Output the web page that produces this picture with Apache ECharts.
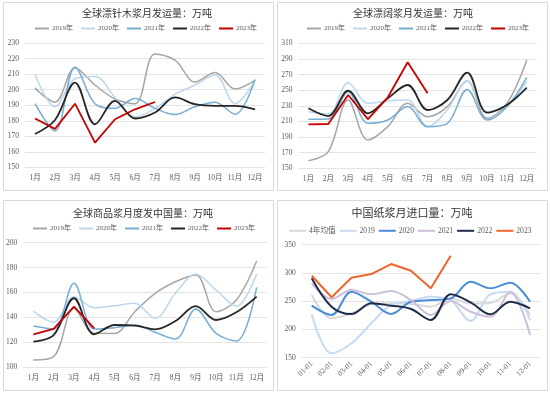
<!DOCTYPE html>
<html>
<head>
<meta charset="utf-8">
<script src="https://cdn.jsdelivr.net/npm/echarts@6/dist/echarts.min.js"></script>
<style>
html,body{margin:0;padding:0;background:#fff;}
#c{width:550px;height:394px;}
</style>
</head>
<body>
<div id="c"></div>
<script>
// ---- Data ----
const months = ['1月','2月','3月','4月','5月','6月','7月','8月','9月','10月','11月','12月'];
const importLabels = ['01-01','02-01','03-01','04-01','05-01','06-01','07-01','08-01','09-01','10-01','11-01','12-01'];
const yearNames = ['2019年','2020年','2021年','2022年','2023年'];
const importNames = ['4年均值','2019','2020','2021','2022','2023'];

const softwood2019 = [201, 192, 214, 203, 194, 191, 223, 219, 205, 211, 200.5, 206];
const softwood2020 = [209.7, 189, 207, 208.5, 195, 182.5, 188, 197, 203, 209.5, 191, 206];
const softwood2021 = [191, 173.5, 214.6, 191, 188, 194.3, 188, 184, 189, 192, 184.2, 206.5];
const softwood2022 = [171.5, 180.5, 204.6, 177.8, 192.8, 181.5, 185.3, 195, 190.7, 189.6, 189.6, 187.4];
const softwood2023 = [181.5, 174.8, 191, 166, 181, 187.4, 192.1];

const hardwood2019 = [159.7, 171.3, 237.4, 186.2, 203.3, 233.2, 216, 229, 262, 214, 233, 288.6];
const hardwood2020 = [222.4, 219.5, 259.6, 233.2, 236, 237.4, 203.3, 224.6, 262, 222.4, 231, 261];
const hardwood2021 = [212.7, 213, 248, 207.6, 211.8, 229, 203.3, 207.6, 251, 211.8, 228.8, 266.5];
const hardwood2022 = [226.8, 216.9, 249.3, 220.4, 239.6, 256.6, 224.6, 237.4, 272.4, 221.2, 231, 253.2];
const hardwood2023 = [206.3, 206.7, 243.8, 213, 240.9, 285.7, 246];

const china2019 = [105.6, 108.3, 147.2, 127.1, 127, 144.5, 159.3, 168.6, 174, 144.5, 153.9, 185.3];
const china2020 = [145, 136, 156.6, 147.7, 149.3, 151.2, 139.2, 159.3, 174.6, 162, 149, 174.8];
const china2021 = [133, 130.6, 167.3, 130.6, 131.6, 133.8, 127.9, 122.5, 146.7, 127.1, 120.9, 164.1];
const china2022 = [120.4, 125.7, 155.3, 126.3, 133.8, 133.3, 130.3, 137, 149, 137.8, 144, 156.6];
const china2023 = [126.3, 130.6, 148.5, 131.1];

const importAvg = [261, 219.7, 228.6, 244.5, 246.2, 245, 240.3, 255, 246, 247, 264, 225.6];
const import2019 = [226.8, 157.8, 175.5, 210.9, 243.3, 250.4, 258, 252, 215, 262.2, 266.8, 216.7];
const import2020 = [242.1, 225.6, 266.8, 249.1, 227.3, 249, 252, 255, 284.5, 272.8, 282.7, 249];
const import2021 = [281.6, 253.9, 269.8, 262.2, 268, 252, 225.6, 250.3, 231.4, 222.6, 265.7, 190.2];
const import2022 = [290.5, 240.3, 227.3, 246.3, 242.1, 236.2, 216.7, 262.2, 248, 226.8, 249.1, 237.4];
const import2023 = [295.1, 256.9, 291.6, 298.1, 315.8, 304, 272.8, 330.5];

// ---- Styles ----
const yearColors = ['#A6A6A6', '#BDD7EE', '#76AED3', '#262626', '#C80000'];
const yearWidths = [1.5, 1.5, 1.5, 1.8, 1.8];
const importColors = ['#D9D9D9', '#C6DBF2', '#4A8ED8', '#CDBFDC', '#1F2E48', '#F0652B'];
const importWidths = [2, 2, 2, 2, 2, 2];

const numFont = "'Liberation Serif', 'Noto Sans CJK SC', serif";
const cjkFont = "'Noto Sans CJK SC', sans-serif";
const labelColor = '#595959';
const gridLine = '#E3E3E3';

const chart = echarts.init(document.getElementById('c'), null, {renderer: 'canvas'});

function mkSeries(names, datas, colors, widths, gridIdx, straightLast) {
  return names.map((n, i) => ({
    name: n,
    type: 'line',
    xAxisIndex: gridIdx,
    yAxisIndex: gridIdx,
    data: datas[i],
    symbol: 'none',
    smooth: (straightLast && i === names.length - 1) ? false : 0.35,
    itemStyle: {color: colors[i]},
    lineStyle: {color: colors[i], width: widths[i]},
    z: 2 + i
  }));
}

function xAx(gridIdx, cats, rotate) {
  return {
    type: 'category', gridIndex: gridIdx, data: cats, boundaryGap: true,
    axisLine: {show: false}, axisTick: {show: false},
    axisLabel: {color: labelColor, fontSize: 7.5, fontFamily: numFont, margin: rotate ? 5 : 7, rotate: rotate || 0, interval: 0}
  };
}
function yAx(gridIdx, min, max, interval) {
  return {
    type: 'value', gridIndex: gridIdx, min: min, max: max, interval: interval,
    axisLine: {show: false}, axisTick: {show: false},
    axisLabel: {color: labelColor, fontSize: 7.5, fontFamily: numFont, margin: 6},
    splitLine: {lineStyle: {color: gridLine, width: 1}}
  };
}
function ttl(text, x, top, size) {
  return {text: text, left: x, top: top, textAlign: 'center', padding: 0,
    textStyle: {fontSize: size, fontWeight: 'normal', color: '#333333', fontFamily: cjkFont}};
}
function lgd(data, left, top, iw, gap, fs) {
  return {data: data, left: left, top: top, padding: 0, icon: 'rect', itemWidth: iw, itemHeight: 2,
    itemGap: gap, selectedMode: false,
    textStyle: {fontSize: fs, color: labelColor, fontFamily: numFont, padding: [0, 0, 0, -2]}};
}

const option = {
  animation: false,
  backgroundColor: '#ffffff',
  title: [
    ttl('全球漂针木浆月发运量：万吨', 147, 8, 10),
    ttl('全球漂阔浆月发运量：万吨', 413, 8, 10),
    ttl('全球商品浆月度发中国量：万吨', 143, 208, 10),
    ttl('中国纸浆月进口量：万吨', 412, 207, 11)
  ],
  legend: [
    lgd(yearNames.map(n => n), 35, 25, 14, 8, 7),
    lgd(yearNames.map(n => n), 307, 25, 14, 8, 7),
    lgd(yearNames.map(n => n), 33, 225, 14, 8, 7),
    lgd(importNames, 289, 227, 17, 4, 7.6)
  ],
  grid: [
    {left: 25, top: 43, width: 240, height: 124.5},
    {left: 298.5, top: 43.3, width: 238.2, height: 125},
    {left: 23.2, top: 242.7, width: 243.6, height: 124.3},
    {left: 301.8, top: 244.7, width: 238.2, height: 113}
  ],
  xAxis: [xAx(0, months), xAx(1, months), xAx(2, months), xAx(3, importLabels, 45)],
  yAxis: [yAx(0, 150, 230, 10), yAx(1, 150, 310, 20), yAx(2, 100, 200, 20), yAx(3, 150, 350, 50)],
  graphic: [
    {type: 'rect', shape: {x: 3.5, y: 2.5, width: 270, height: 188}, style: {fill: 'none', stroke: '#D9D9D9', lineWidth: 1}, silent: true},
    {type: 'rect', shape: {x: 277.5, y: 2.5, width: 270, height: 188}, style: {fill: 'none', stroke: '#D9D9D9', lineWidth: 1}, silent: true},
    {type: 'rect', shape: {x: 3.5, y: 200.5, width: 270, height: 190}, style: {fill: 'none', stroke: '#D9D9D9', lineWidth: 1}, silent: true},
    {type: 'rect', shape: {x: 277.5, y: 200.5, width: 270, height: 190}, style: {fill: 'none', stroke: '#D9D9D9', lineWidth: 1}, silent: true}
  ],
  series: [].concat(
    mkSeries(yearNames, [softwood2019, softwood2020, softwood2021, softwood2022, softwood2023], yearColors, yearWidths, 0, true),
    mkSeries(yearNames, [hardwood2019, hardwood2020, hardwood2021, hardwood2022, hardwood2023], yearColors, yearWidths, 1, true),
    mkSeries(yearNames, [china2019, china2020, china2021, china2022, china2023], yearColors, yearWidths, 2, true),
    mkSeries(importNames, [importAvg, import2019, import2020, import2021, import2022, import2023], importColors, importWidths, 3, true)
  )
};
chart.setOption(option);
</script>
</body>
</html>
